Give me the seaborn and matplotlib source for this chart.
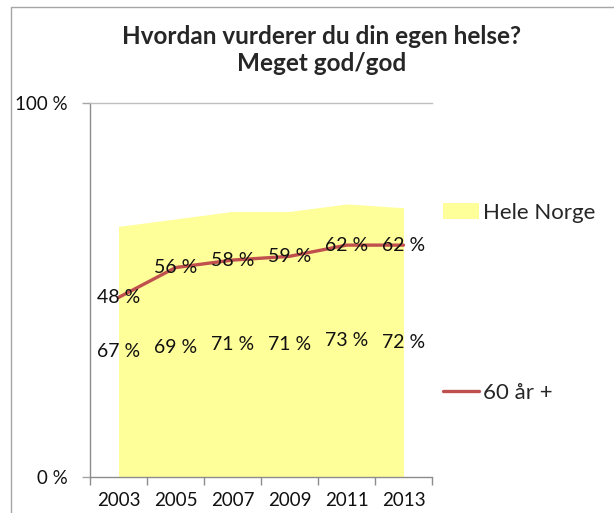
import numpy as np
import matplotlib.pyplot as plt
import seaborn as sns
from matplotlib.patches import Patch
from matplotlib.lines import Line2D

years = ["2003", "2005", "2007", "2009", "2011", "2013"]
hele_norge = [67, 69, 71, 71, 73, 72]
sixty_plus = [48, 56, 58, 59, 62, 62]

YELLOW = "#FFFF99"
RED = "#C0504D"

sns.set_theme(style="white")
plt.rcParams["font.family"] = ["Lato", "DejaVu Sans"]

fig = plt.figure(figsize=(6.14, 5.13), dpi=100)
ax = fig.add_axes([90 / 614, 1 - 477 / 513, 342 / 614, 374 / 513])

pos = np.arange(len(years))
ax.fill_between(pos, hele_norge, color=YELLOW, linewidth=0)
sns.lineplot(x=pos, y=sixty_plus, ax=ax, color=RED, linewidth=2.4, legend=False)

# data labels (area labels sit at half height, like Excel)
for x, v in zip(pos, hele_norge):
    ax.text(x, v / 2, f"{v} %", ha="center", va="center", fontsize=14, color="#111111")
for x, v in zip(pos, sixty_plus):
    ax.text(x, v, f"{v} %", ha="center", va="center", fontsize=14, color="#111111")

ax.set_xlim(-0.5, len(years) - 0.5)
ax.set_ylim(0, 100)
ax.set_xticks(pos, years)
ax.set_xticks(np.arange(-0.5, len(years)), minor=True)
ax.tick_params(axis="x", which="major", length=0, pad=11, labelsize=13.5, labelcolor="#111111")
ax.tick_params(axis="x", which="minor", length=6, width=1, color="#8C8C8C", direction="out", bottom=True)
ax.set_yticks([0, 100], ["0 %", "100 %"])
ax.tick_params(axis="y", length=6, width=1, color="#A6A6A6", direction="out", left=True,
               pad=10, labelsize=13.5, labelcolor="#111111")

ax.spines["right"].set_visible(False)
ax.spines["top"].set_color("#BFBFBF")
ax.spines["left"].set_color("#8C8C8C")
ax.spines["bottom"].set_color("#8C8C8C")
for s in ax.spines.values():
    s.set_linewidth(1)

handles = [Patch(facecolor=YELLOW, edgecolor="none"),
           Line2D([0], [0], color=RED, linewidth=2.4)]
ax.legend(handles, ["Hele Norge", "60 år +"], loc="upper left",
          bbox_to_anchor=(443 / 614, 1 - 203 / 513), bbox_transform=fig.transFigure,
          frameon=False, fontsize=16, handlelength=1.6, handletextpad=0.2,
          labelspacing=7.2, borderpad=0, borderaxespad=0)

fig.text(322 / 614, 1 - 50 / 513, "Hvordan vurderer du din egen helse?\nMeget god/god",
         ha="center", va="center", fontsize=17.5, fontweight="bold", linespacing=1.2)

# chart frame (cropped at right and bottom)
fig.add_artist(Line2D([11 / 614, 11 / 614], [0, 1 - 7 / 513], transform=fig.transFigure,
                      color="#A6A6A6", linewidth=1))
fig.add_artist(Line2D([11 / 614, 1], [1 - 7 / 513, 1 - 7 / 513], transform=fig.transFigure,
                      color="#A6A6A6", linewidth=1))

fig.savefig("out.png", dpi=100)
